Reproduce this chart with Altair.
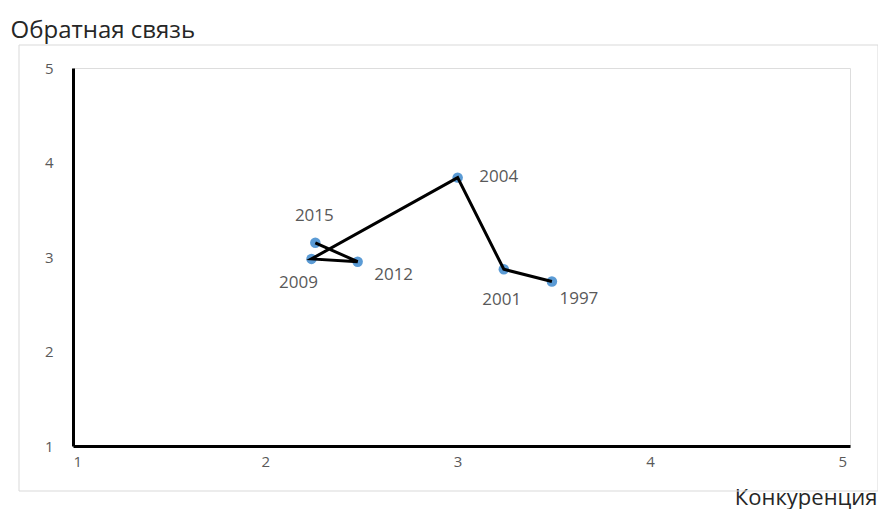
import altair as alt
import pandas as pd

years = ["1997", "2001", "2004", "2009", "2012", "2015"]
competition = [3.49, 3.24, 3.00, 2.24, 2.48, 2.26]
feedback = [2.74, 2.87, 3.84, 2.98, 2.95, 3.15]
order = [1, 2, 3, 4, 5, 6]
x_ticks = [1, 2, 3, 4, 5]
y_ticks = [1, 2, 3, 4, 5]

df = pd.DataFrame({"year": years, "x": competition, "y": feedback, "order": order})

# label offsets (style only)
label_offsets = {
    "1997": (27, 17),
    "2001": (-2, 31),
    "2004": (41, -1),
    "2009": (-13, 24),
    "2012": (36, 13),
    "2015": (-1, -27),
}

W, H = 777, 378
FONT = "Open Sans"

xs = alt.Scale(domain=[1, 5.04], nice=False, zero=False)
ys = alt.Scale(domain=[1, 5], nice=False, zero=False)

x_axis = alt.Axis(
    values=x_ticks, format="d", grid=False, ticks=False, domain=True, domainColor="black",
    domainWidth=3, labelColor="#595959", labelFontSize=15, labelPadding=8,
    labelFont=FONT, title="Конкуренция", titleFont=FONT, titleFontSize=22,
    titleFontWeight="normal", titleColor="#262626", titleAnchor="end",
    titleAlign="right", titleBaseline="alphabetic", titleX=804, titleY=58,
)
y_axis = alt.Axis(
    values=y_ticks, format="d", grid=False, ticks=False, domain=True, domainColor="black",
    domainWidth=3, labelColor="#595959", labelFontSize=15, labelPadding=20,
    labelFont=FONT, title="Обратная связь", titleFont=FONT, titleFontSize=24,
    titleFontWeight="normal", titleColor="#262626", titleAngle=0,
    titleAlign="left", titleBaseline="alphabetic", titleX=-63, titleY=-31,
)

border = alt.Chart(df).mark_rect(
    fill=None, stroke="#d9d9d9", strokeWidth=1, clip=False
).encode(
    x=alt.value(-54), x2=alt.value(805), y=alt.value(-23), y2=alt.value(423)
).transform_filter(alt.datum.year == "1997")

points = alt.Chart(df).mark_circle(size=110, color="#5b9bd5", opacity=1).encode(
    x=alt.X("x:Q", scale=xs, axis=x_axis),
    y=alt.Y("y:Q", scale=ys, axis=y_axis),
)

line = alt.Chart(df).mark_line(color="black", strokeWidth=3).encode(
    x=alt.X("x:Q", scale=xs),
    y=alt.Y("y:Q", scale=ys),
    order="order:Q",
)

labels = []
for yr, (dx, dy) in label_offsets.items():
    labels.append(
        alt.Chart(df).transform_filter(alt.datum.year == yr).mark_text(
            dx=dx, dy=dy, font=FONT, fontSize=17, color="#595959", align="center",
            baseline="middle",
        ).encode(
            x=alt.X("x:Q", scale=xs),
            y=alt.Y("y:Q", scale=ys),
            text="year:N",
        )
    )

chart = alt.layer(border, points, line, *labels).properties(
    width=W, height=H,
    autosize=alt.AutoSizeParams(type="none"),
    padding={"left": 65, "top": 60, "right": 28, "bottom": 63},
).configure_view(stroke=None).configure(background="white")

chart.save("out.html", embed_options={"renderer": "svg", "actions": False})
